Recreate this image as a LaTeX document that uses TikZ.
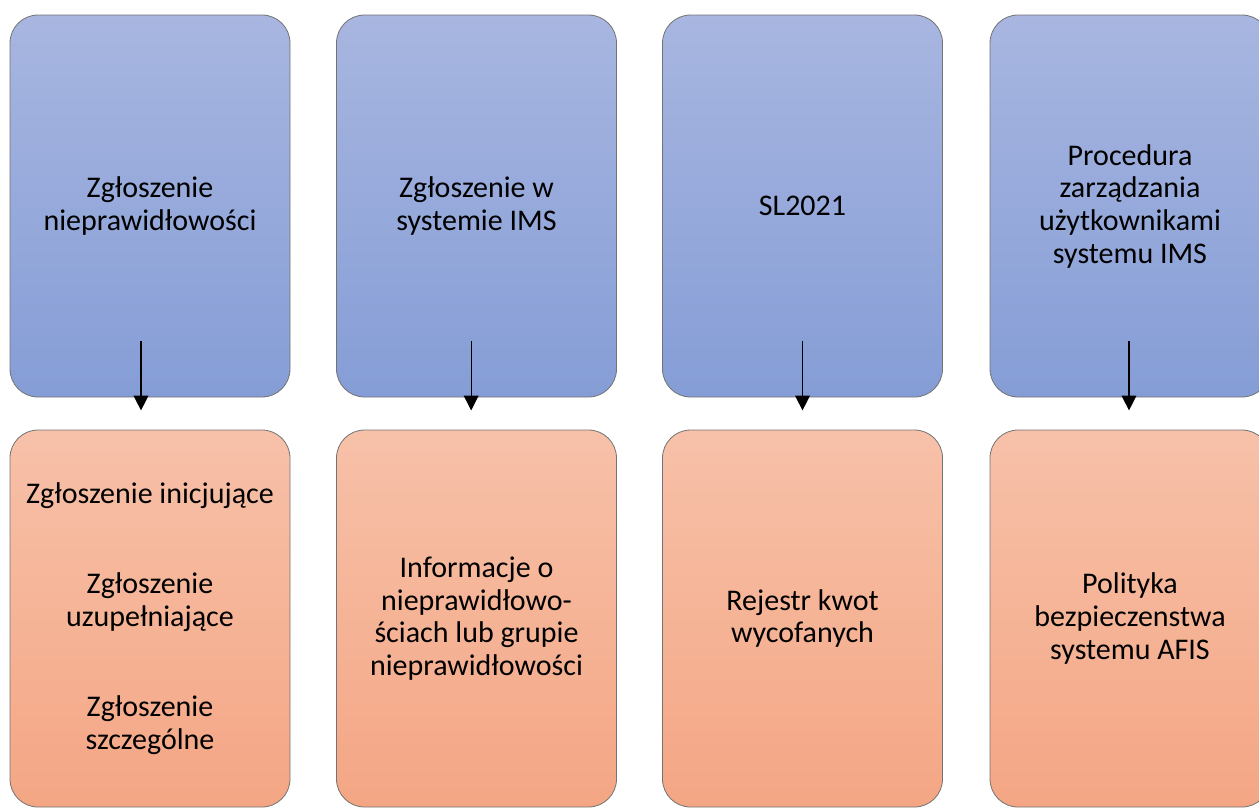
\documentclass[tikz,border=0pt]{standalone}
\usepackage{fontspec}
\setmainfont{Carlito}
\usetikzlibrary{arrows.meta}
\definecolor{blueA}{RGB}{168,182,224}
\definecolor{blueB}{RGB}{133,157,214}
\definecolor{orangeA}{RGB}{247,193,169}
\definecolor{orangeB}{RGB}{244,166,132}

\begin{document}
\begin{tikzpicture}[x=0.75pt,y=-0.75pt,
  box/.style={draw=black!55,line width=0.6pt,rounded corners=21pt,minimum width=210pt,
    align=center,inner sep=0pt,font=\fontsize{22.5}{24.5}\selectfont},
  upper/.style={box,minimum height=286.5pt,top color=blueA,bottom color=blueB},
  lower/.style={box,minimum height=282.75pt,top color=orangeA,bottom color=orangeB},
  arr/.style={-{Triangle[length=11pt,width=11pt]},line width=0.8pt}]
  \useasboundingbox (0,0) rectangle (1259,808);

  \node[upper] (1) at (150,206) {Zgłoszenie\\nieprawidłowości};
  \node[upper] (2) at (476.5,206) {Zgłoszenie w\\systemie IMS};
  \node[upper] (3) at (802.5,206) {SL2021};
  \node[upper] (4) at (1130,206) {Procedura\\zarządzania\\użytkownikami\\systemu IMS};

  \node[lower] (5) at (150,618.5) {Zgłoszenie inicjujące\\[43pt]Zgłoszenie\\uzupełniające\\[43pt]Zgłoszenie\\szczególne};
  \node[lower] (6) at (476.5,618.5) {Informacje o\\nieprawidłowo-\\ściach lub grupie\\nieprawidłowości};
  \node[lower] (7) at (802.5,618.5) {Rejestr kwot\\wycofanych};
  \node[lower] (8) at (1130,618.5) {Polityka\\bezpieczenstwa\\systemu AFIS};

  \draw[arr] ([xshift=-6.75pt,yshift=42pt]1.south) -- ([xshift=-6.75pt,yshift=-9.75pt]1.south);
  \draw[arr] ([xshift=-4pt,yshift=42pt]2.south) -- ([xshift=-4pt,yshift=-9.75pt]2.south);
  \draw[arr] ([yshift=42pt]3.south) -- ([yshift=-9.75pt]3.south);
  \draw[arr] ([xshift=-0.75pt,yshift=42pt]4.south) -- ([xshift=-0.75pt,yshift=-9.75pt]4.south);
\end{tikzpicture}
\end{document}
